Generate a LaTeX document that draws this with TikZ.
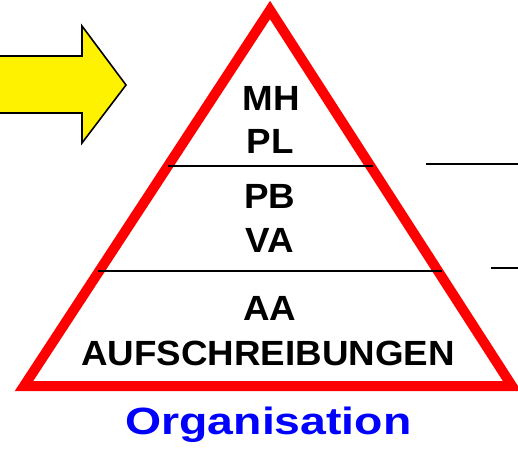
\documentclass[tikz,border=0pt]{standalone}
\usepackage{fontspec}
\setmainfont{Liberation Sans}

\begin{document}
\begin{tikzpicture}
[
x=1pt, y=-1pt,
level/.style={
% The text:
font=\bfseries\fontsize{35}{42}\selectfont,
xscale=1.05,
anchor=base,
inner sep=0pt,
},
title/.style={
% The text:
font=\bfseries\fontsize{38}{45}\selectfont,
text=blue,
xscale=1.22,
anchor=base,
inner sep=0pt,
},
pyramid/.style={
% The border:
draw=red,
line width=10pt,
line join=miter,
},
divider/.style={
% The line:
draw=black,
line width=1.6pt,
},
pointer/.style={
% The border:
draw=black,
line width=1.6pt,
% The filling:
fill=yellow,
}
]
    \useasboundingbox (0,0) rectangle (518,451);
    \clip (0,0) rectangle (518,451);
    % the arrow on the left
    \draw[pointer] (-10,56) -- (82,56) -- (82,26) -- (126,85) -- (82,143) -- (82,113) -- (-10,113) -- cycle;
    % the triangle
    \coordinate (top) at (270,10);
    \coordinate (left) at (24,386);
    \coordinate (right) at (512,386);
    \draw[pyramid] (top) -- (left) -- (right) -- cycle;
    % the levels
    \draw[divider] (168,166) -- (373,166);
    \draw[divider] (98,271) -- (442,271);
    \draw[divider] (426,164) -- (530,164);
    \draw[divider] (491,268) -- (530,268);
    \node[level] (mh) at (271,110) {MH};
    \node[level] (pl) at (270,153) {PL};
    \node[level] (pb) at (270,208) {PB};
    \node[level] (va) at (270,252) {VA};
    \node[level] (aa) at (270,320) {AA};
    \node[level] (auf) at (268,365) {AUFSCHREIBUNGEN};
    \node[title] (org) at (268.5,434) {Organisation};
\end{tikzpicture}
\end{document}
